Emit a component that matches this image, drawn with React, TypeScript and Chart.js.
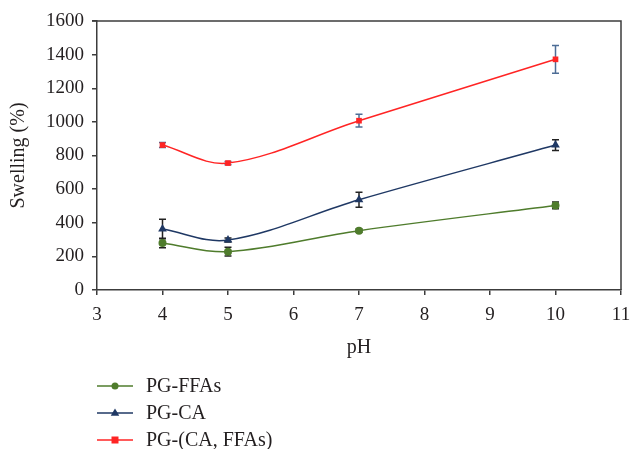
import React, { useEffect, useRef } from "react";
import { Chart, registerables } from "chart.js";

Chart.register(...registerables);

const phValues = [4, 5, 7, 10];
const ffaValues = [280, 228, 353, 503];
const ffaErrors = [28, 26, 10, 20];
const caValues = [363, 297, 537, 862];
const caErrors = [58, 12, 45, 32];
const mixValues = [862, 755, 1007, 1372];
const mixErrors = [15, 10, 38, 83];

const seriesNames = ["PG-FFAs", "PG-CA", "PG-(CA, FFAs)"];
const seriesColors = ["#4f7c2c", "#1f3864", "#ff2424"];
const errorColors = ["#222222", "#222222", "#4d6d96"];
const markerStyles = ["circle", "triangle", "rect"];
const markerRadii = [4, 5, 4];
const errorSets = [ffaErrors, caErrors, mixErrors];

const FONT = "'Liberation Serif', 'DejaVu Serif', serif";
const TEXT = "#231f20";
const AXIS = "#3c3c3c";

const errorBarPlugin = {
  id: "errorBars",
  beforeDatasetsDraw(chart: any) {
    const { ctx, scales } = chart;
    const x = scales.x;
    const y = scales.y;
    ctx.save();
    chart.data.datasets.forEach((ds: any, i: number) => {
      const errs = errorSets[i];
      ctx.strokeStyle = errorColors[i];
      ctx.lineWidth = 1.5;
      ds.data.forEach((p: any, j: number) => {
        const px = x.getPixelForValue(p.x);
        const top = y.getPixelForValue(p.y + errs[j]);
        const bot = y.getPixelForValue(p.y - errs[j]);
        ctx.beginPath();
        ctx.moveTo(px, top);
        ctx.lineTo(px, bot);
        ctx.moveTo(px - 3.5, top);
        ctx.lineTo(px + 3.5, top);
        ctx.moveTo(px - 3.5, bot);
        ctx.lineTo(px + 3.5, bot);
        ctx.stroke();
      });
    });
    ctx.restore();
  },
};

const framePlugin = {
  id: "frame",
  afterDraw(chart: any) {
    const { ctx, chartArea } = chart;
    ctx.save();
    ctx.strokeStyle = AXIS;
    ctx.lineWidth = 1.5;
    ctx.beginPath();
    ctx.moveTo(chartArea.left - 5, chartArea.top);
    ctx.lineTo(chartArea.right, chartArea.top);
    ctx.lineTo(chartArea.right, chartArea.bottom);
    ctx.stroke();
    ctx.restore();
  },
};

function drawMarker(ctx: any, style: string, x: number, y: number, r: number, color: string) {
  ctx.fillStyle = color;
  ctx.beginPath();
  if (style === "circle") {
    ctx.arc(x, y, r, 0, Math.PI * 2);
  } else if (style === "triangle") {
    ctx.moveTo(x, y - r);
    ctx.lineTo(x + r * 0.95, y + r * 0.6);
    ctx.lineTo(x - r * 0.95, y + r * 0.6);
    ctx.closePath();
  } else {
    ctx.rect(x - r, y - r, r * 2, r * 2);
  }
  ctx.fill();
}

const legendPlugin = {
  id: "customLegend",
  afterDraw(chart: any) {
    const { ctx } = chart;
    const rows = [386, 413, 440];
    ctx.save();
    seriesNames.forEach((name, i) => {
      const yy = rows[i];
      ctx.strokeStyle = seriesColors[i];
      ctx.lineWidth = 1.5;
      ctx.beginPath();
      ctx.moveTo(97, yy);
      ctx.lineTo(133, yy);
      ctx.stroke();
      drawMarker(ctx, markerStyles[i], 115, yy, markerRadii[i] - 0.5, seriesColors[i]);
      ctx.fillStyle = TEXT;
      ctx.font = `20px ${FONT}`;
      ctx.textBaseline = "middle";
      ctx.textAlign = "left";
      ctx.fillText(name, 146, yy + 1);
    });
    ctx.restore();
  },
};

export default function App() {
  const ref = useRef<HTMLCanvasElement>(null);

  useEffect(() => {
    document.body.style.margin = "0";
    const valueSets = [ffaValues, caValues, mixValues];
    const chart = new Chart(ref.current as HTMLCanvasElement, {
      type: "line",
      data: {
        datasets: seriesNames.map((name, i) => ({
          label: name,
          data: phValues.map((ph, j) => ({ x: ph, y: valueSets[i][j] })),
          borderColor: seriesColors[i],
          backgroundColor: seriesColors[i],
          borderWidth: 1.5,
          pointStyle: markerStyles[i] as any,
          pointRadius: markerRadii[i],
          pointBorderWidth: 0,
          tension: 0.35,
          fill: false,
        })),
      },
      options: {
        responsive: false,
        animation: false,
        layout: { padding: { left: 0, top: 21, right: 10, bottom: 89 } },
        plugins: {
          legend: { display: false },
          tooltip: { enabled: false },
        },
        scales: {
          x: {
            type: "linear",
            min: 3,
            max: 11,
            ticks: { stepSize: 1, color: TEXT, font: { family: FONT, size: 19 }, padding: 9 },
            grid: { drawOnChartArea: false, tickLength: 5, color: AXIS, lineWidth: 1.5 },
            border: { color: AXIS, width: 1.5 },
            title: {
              display: true,
              text: "pH",
              color: TEXT,
              font: { family: FONT, size: 20 },
              padding: { top: 0, bottom: 0 },
            },
            afterFit: (s: any) => {
              s.height = 70;
              s.paddingLeft = 0;
              s.paddingRight = 0;
            },
          },
          y: {
            min: 0,
            max: 1600,
            ticks: {
              stepSize: 200,
              color: TEXT,
              font: { family: FONT, size: 19 },
              padding: 8,
              callback: (v: any) => String(v),
            },
            grid: { drawOnChartArea: false, tickLength: 5, color: AXIS, lineWidth: 1.5 },
            border: { color: AXIS, width: 1.5 },
            title: {
              display: true,
              text: "Swelling (%)",
              color: TEXT,
              font: { family: FONT, size: 20 },
              padding: { top: 7, bottom: 0 },
            },
            afterFit: (s: any) => {
              s.width = 97;
              s.paddingTop = 0;
              s.paddingBottom = 0;
            },
          },
        },
      } as any,
      plugins: [errorBarPlugin, framePlugin, legendPlugin],
    });
    return () => chart.destroy();
  }, []);

  return <canvas ref={ref} width={631} height={449} />;
}
